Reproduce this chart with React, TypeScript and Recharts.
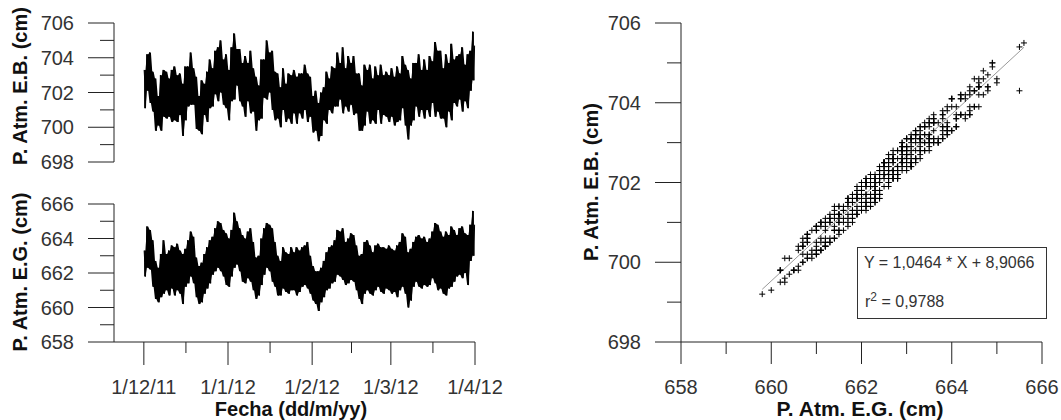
import { ComposedChart, Line, Area, ScatterChart, Scatter, XAxis, YAxis, ReferenceLine } from 'recharts';

// four readings a day, E.G. station (cm), 1/12/11 .. 31/3/12: high, mean, low, second mean
const egHi = [
  663.3, 664.7, 664.5, 663.9, 662.7, 662.3, 663.1, 663.9, 663.1, 663.3,
  663.6, 663.5, 663.7, 663.3, 663.1, 663.4, 663.9, 664.4, 664.1, 662.9,
  662.4, 662.6, 663.1, 663.5, 663.9, 664.1, 664.6, 665.0, 664.9, 664.5,
  664.3, 664.0, 664.5, 665.5, 665.0, 664.6, 664.2, 664.0, 664.4, 664.6,
  663.8, 662.9, 663.0, 664.0, 664.6, 664.9, 664.8, 664.6, 663.8, 663.0,
  662.7, 663.5, 663.2, 663.1, 663.5, 663.2, 663.5, 663.3, 663.5, 663.6,
  663.8, 663.0, 662.4, 662.1, 662.1, 662.3, 662.7, 663.2, 663.5, 663.6,
  663.9, 664.5, 664.4, 664.6, 663.8, 664.0, 664.3, 664.2, 663.6, 663.0,
  663.1, 663.8, 663.9, 663.6, 663.2, 663.6, 663.7, 663.5, 663.5, 663.4,
  663.6, 663.4, 663.3, 663.6, 663.8, 664.3, 664.1, 663.2, 663.4, 663.8,
  664.1, 664.2, 664.0, 664.1, 663.8, 664.0, 664.4, 664.9, 664.8, 664.4,
  664.1, 664.4, 664.2, 664.7, 664.5, 664.2, 664.6, 664.7, 664.3, 664.2,
  664.8, 665.6,
];
const egMean = [
  662.6, 663.6, 663.4, 662.6, 661.7, 661.4, 661.9, 662.4, 662.1, 662.1,
  662.4, 662.2, 662.5, 662.1, 661.8, 662.4, 662.7, 663.2, 662.8, 661.8,
  661.4, 661.5, 662.0, 662.4, 662.7, 663.1, 663.4, 663.7, 663.6, 663.2,
  662.9, 662.7, 663.2, 663.9, 663.8, 663.4, 662.9, 662.8, 663.1, 663.1,
  662.5, 661.8, 661.9, 662.7, 663.3, 663.7, 663.5, 663.1, 662.6, 661.9,
  661.8, 662.4, 662.1, 662.0, 662.3, 662.2, 662.2, 662.2, 662.4, 662.5,
  662.5, 662.0, 661.5, 661.2, 661.0, 661.4, 661.7, 662.2, 662.4, 662.6,
  662.8, 663.3, 663.2, 663.2, 662.6, 662.8, 663.0, 662.9, 662.4, 661.8,
  661.7, 662.4, 662.5, 662.3, 662.0, 662.4, 662.5, 662.3, 662.2, 662.3,
  662.4, 662.2, 662.2, 662.2, 662.5, 662.8, 662.5, 661.7, 662.0, 662.6,
  662.9, 662.8, 662.6, 662.8, 662.6, 662.7, 663.1, 663.2, 663.0, 662.8,
  662.5, 662.6, 662.7, 663.0, 663.1, 663.1, 663.3, 663.3, 663.2, 662.8,
  663.8, 664.4,
];
const egLo = [
  661.8, 662.3, 662.2, 661.2, 660.5, 660.3, 660.6, 660.8, 661.0, 660.7,
  661.1, 660.7, 661.0, 660.8, 660.2, 661.2, 661.4, 661.8, 661.4, 660.6,
  660.2, 660.3, 660.8, 661.1, 661.4, 661.9, 662.1, 662.3, 662.1, 661.8,
  661.3, 661.2, 661.8, 662.3, 662.5, 662.1, 661.5, 661.4, 661.7, 661.5,
  661.0, 660.5, 660.7, 661.3, 661.9, 662.3, 662.1, 661.5, 661.2, 660.7,
  660.7, 661.1, 660.9, 660.8, 661.0, 661.0, 660.7, 660.9, 661.2, 661.3,
  661.1, 660.8, 660.4, 660.2, 659.8, 660.3, 660.6, 661.0, 661.1, 661.4,
  661.5, 661.9, 661.8, 661.6, 661.3, 661.4, 661.6, 661.5, 661.0, 660.5,
  660.2, 660.8, 661.0, 660.8, 660.7, 661.0, 661.2, 660.9, 660.8, 661.1,
  661.0, 660.8, 660.9, 660.6, 661.0, 661.2, 660.8, 660.0, 660.4, 661.2,
  661.5, 661.2, 661.1, 661.3, 661.2, 661.3, 661.7, 661.4, 661.0, 661.1,
  660.8, 660.7, 661.1, 661.2, 661.5, 661.8, 661.9, 661.7, 662.0, 661.3,
  662.7, 663.0,
];
const egMean2 = [
  662.9, 663.3, 662.9, 662.0, 661.5, 661.6, 662.1, 662.0, 662.3, 662.0,
  662.1, 662.4, 662.2, 661.9, 662.1, 662.6, 663.0, 662.9, 662.3, 661.5,
  661.6, 661.8, 662.2, 662.7, 663.0, 663.4, 663.7, 663.9, 663.3, 662.9,
  662.6, 663.0, 663.6, 664.1, 663.5, 663.1, 662.6, 663.0, 663.4, 662.8,
  662.1, 661.6, 662.2, 663.0, 663.6, 663.9, 663.3, 662.8, 662.2, 661.7,
  662.1, 662.6, 661.9, 662.2, 662.5, 662.0, 661.9, 662.4, 662.6, 662.7,
  662.2, 661.7, 661.3, 661.4, 661.2, 661.7, 661.9, 662.4, 662.7, 662.9,
  663.1, 663.5, 662.9, 662.8, 662.9, 663.1, 662.7, 662.6, 662.0, 661.6,
  662.0, 662.6, 662.3, 662.0, 662.3, 662.6, 662.3, 662.0, 662.4, 662.5,
  662.2, 661.9, 662.4, 662.5, 662.8, 663.0, 662.2, 661.5, 662.3, 662.9,
  662.7, 662.5, 662.8, 662.6, 662.4, 663.0, 663.4, 663.0, 662.7, 662.5,
  662.3, 662.9, 662.9, 663.3, 663.3, 662.9, 663.5, 663.0, 662.9, 663.2,
  664.2, 664.8,
];

// same four readings, E.B. station (cm)
const ebHi = [
  703.3, 704.2, 704.3, 703.2, 702.8, 701.8, 703.0, 703.3, 703.2, 702.8,
  703.3, 703.5, 703.0, 703.1, 702.5, 703.5, 703.5, 704.3, 703.4, 702.9,
  701.8, 702.7, 702.5, 703.2, 703.9, 703.4, 704.4, 704.6, 705.0, 703.9,
  704.2, 703.3, 704.6, 705.4, 704.5, 704.5, 703.7, 704.1, 703.7, 704.4,
  703.4, 702.9, 702.4, 703.9, 703.9, 705.0, 704.3, 704.4, 703.2, 703.1,
  702.3, 703.4, 702.5, 703.1, 703.0, 703.3, 702.9, 703.1, 703.1, 703.6,
  703.1, 702.9, 701.8, 702.1, 701.4, 702.0, 702.3, 703.2, 702.8, 703.5,
  703.4, 704.3, 703.7, 704.6, 703.4, 704.1, 703.7, 704.1, 703.1, 703.1,
  702.4, 703.6, 703.3, 703.6, 702.8, 703.5, 703.0, 703.6, 703.0, 703.2,
  703.0, 703.4, 702.9, 703.5, 703.1, 704.1, 703.6, 703.3, 702.8, 703.7,
  703.7, 704.2, 703.3, 703.9, 703.3, 704.1, 703.8, 704.9, 704.4, 704.4,
  703.4, 704.2, 703.7, 704.8, 703.9, 704.1, 704.2, 704.6, 703.6, 704.2,
  704.4, 705.5,
];
const ebMean = [
  702.6, 703.0, 703.4, 701.9, 701.6, 700.8, 701.9, 701.7, 702.0, 701.3,
  702.3, 701.6, 702.5, 701.4, 701.7, 701.6, 702.6, 702.6, 702.8, 701.1,
  701.4, 700.8, 701.9, 701.6, 702.7, 702.6, 703.4, 703.0, 703.7, 702.6,
  702.9, 702.1, 703.1, 703.2, 703.8, 702.8, 703.0, 702.2, 703.1, 702.4,
  702.5, 701.2, 701.8, 702.1, 703.4, 703.1, 703.5, 702.4, 702.6, 701.2,
  701.6, 701.7, 702.1, 701.3, 702.2, 701.4, 702.1, 701.6, 702.3, 701.9,
  702.5, 701.3, 701.4, 700.5, 700.9, 700.6, 701.6, 701.6, 702.4, 702.0,
  702.8, 702.6, 703.2, 702.6, 702.5, 702.2, 703.1, 702.3, 702.3, 701.0,
  701.6, 701.7, 702.5, 701.7, 702.0, 701.7, 702.5, 701.5, 702.1, 701.6,
  702.2, 701.5, 702.2, 701.5, 702.5, 702.1, 702.5, 701.0, 701.9, 702.1,
  703.0, 702.2, 702.6, 702.1, 702.6, 702.1, 703.1, 702.6, 703.1, 702.1,
  702.5, 702.0, 702.6, 702.3, 703.1, 702.5, 703.4, 702.7, 703.2, 702.2,
  703.7, 703.9,
];
const ebLo = [
  701.1, 702.1, 701.4, 700.9, 699.8, 700.1, 699.8, 700.6, 700.5, 700.6,
  700.3, 700.4, 700.3, 700.7, 699.5, 700.4, 701.2, 701.3, 701.3, 699.9,
  699.8, 699.6, 700.7, 700.3, 701.1, 701.2, 701.9, 701.5, 702.0, 701.3,
  701.1, 700.4, 701.5, 701.6, 702.4, 701.5, 701.2, 700.6, 701.5, 700.8,
  700.9, 699.8, 700.4, 700.5, 701.7, 701.6, 702.0, 701.0, 700.4, 700.5,
  700.0, 701.0, 700.3, 700.5, 700.2, 700.8, 700.2, 700.8, 700.5, 701.0,
  700.3, 700.6, 699.7, 699.8, 699.2, 699.5, 700.4, 700.2, 701.0, 700.8,
  701.2, 701.2, 701.6, 700.8, 701.2, 700.9, 701.3, 700.7, 700.8, 699.8,
  699.8, 700.1, 700.9, 700.2, 700.4, 700.2, 701.0, 700.2, 700.7, 700.6,
  700.3, 700.6, 700.1, 700.3, 700.4, 701.1, 700.1, 699.3, 700.1, 700.4,
  701.2, 700.6, 701.0, 700.5, 701.0, 700.6, 701.4, 700.6, 700.9, 700.5,
  700.5, 700.0, 700.9, 700.4, 701.4, 701.2, 701.6, 700.9, 701.5, 701.1,
  702.1, 702.7,
];
const ebMean2 = [
  702.5, 703.1, 702.6, 701.8, 701.0, 701.3, 701.5, 701.7, 701.9, 701.8,
  701.6, 702.1, 701.6, 701.7, 701.7, 702.2, 702.8, 702.4, 702.1, 701.1,
  701.1, 701.5, 701.6, 702.6, 702.7, 703.0, 703.5, 703.4, 703.2, 702.6,
  702.4, 702.6, 703.5, 703.6, 703.2, 702.9, 702.1, 702.9, 703.0, 702.6,
  701.7, 701.4, 701.7, 702.8, 703.1, 703.8, 703.0, 702.4, 701.9, 701.1,
  701.9, 702.3, 701.6, 701.7, 702.4, 701.4, 701.6, 702.0, 702.2, 702.5,
  702.0, 701.2, 701.0, 700.8, 700.8, 701.5, 701.4, 702.1, 702.2, 702.8,
  702.8, 703.1, 702.7, 702.3, 702.8, 702.7, 702.5, 702.3, 701.8, 701.0,
  701.7, 702.2, 702.1, 701.6, 701.7, 702.4, 701.8, 701.8, 702.0, 702.1,
  701.9, 701.3, 702.2, 702.2, 702.4, 702.8, 701.6, 701.2, 701.9, 702.8,
  702.3, 702.3, 702.3, 702.5, 702.0, 702.6, 703.2, 702.5, 702.6, 702.2,
  702.0, 702.5, 702.8, 702.8, 703.1, 702.6, 703.1, 702.9, 702.5, 703.0,
  703.7, 704.7,
];

// single stray reading seen in the scatter
const outlierEG = [665.5];
const outlierEB = [704.3];

// axes
const monthTicks = [0, 31, 62, 91, 122];
const monthLabels = ['1/12/11', '1/1/12', '1/2/12', '1/3/12', '1/4/12'];
const midMonthTicks = [15.5, 46.5, 76.5, 106.5];
const ebTicks = [698, 699, 700, 701, 702, 703, 704, 705, 706];
const egTicks = [658, 659, 660, 661, 662, 663, 664, 665, 666];

// fit shown in the box
const slope = 1.0464;
const intercept = 8.9066;
const r2 = 0.9788;
const fitRange = [659.8, 665.6];

const W = 1061;
const H = 420;
const FONT = '"Liberation Sans", Arial, sans-serif';
const INK = '#222';
const TXT = '#333';

// readings a quarter day apart, plus the daily low-high envelope
const toSeries = (hi: number[], mean: number[], lo: number[], mean2: number[]) =>
  hi.flatMap((h, i) => [
    { t: i + 0.1, v: h, band: [lo[i], h] },
    { t: i + 0.35, v: mean[i] },
    { t: i + 0.6, v: lo[i], band: [lo[i], h] },
    { t: i + 0.85, v: mean2[i] },
  ]);

const ebSeries = toSeries(ebHi, ebMean, ebLo, ebMean2);
const egSeries = toSeries(egHi, egMean, egLo, egMean2);

const pairs = (xs: number[], ys: number[]) => xs.map((x, i) => ({ x, y: ys[i] }));
const scatterPoints = [
  ...pairs(egHi, ebHi),
  ...pairs(egMean, ebMean),
  ...pairs(egLo, ebLo),
  ...pairs(egMean2, ebMean2),
  ...pairs(outlierEG, outlierEB),
];

const fitSegment = fitRange.map((x) => ({ x, y: slope * x + intercept }));
const comma = (n: number) => String(n).replace('.', ',');

const YTick = (props: any) => {
  const { x, y, payload } = props;
  const major = payload.value % 2 === 0;
  return (
    <g>
      <line x1={x - (major ? 26 : 14)} x2={x} y1={y} y2={y} stroke={INK} />
      {major && (
        <text x={x - 40} y={y} dy="0.35em" textAnchor="end" fontFamily={FONT} fontSize={20} fill={TXT}>
          {payload.value}
        </text>
      )}
    </g>
  );
};

const DateTick = (props: any) => {
  const { x, y, payload } = props;
  const idx = monthTicks.indexOf(payload.value);
  const major = idx >= 0;
  return (
    <g>
      <line x1={x} x2={x} y1={y} y2={y + (major ? 23 : 11)} stroke={INK} />
      {major && (
        <text x={x} y={y + 45} dy="0.35em" textAnchor="middle" fontFamily={FONT} fontSize={20} fill={TXT}>
          {monthLabels[idx]}
        </text>
      )}
    </g>
  );
};

const ValTick = (props: any) => {
  const { x, y, payload } = props;
  const major = payload.value % 2 === 0;
  return (
    <g>
      <line x1={x} x2={x} y1={y} y2={y + (major ? 22 : 12)} stroke={INK} />
      {major && (
        <text x={x} y={y + 45} dy="0.35em" textAnchor="middle" fontFamily={FONT} fontSize={20} fill={TXT}>
          {payload.value}
        </text>
      )}
    </g>
  );
};

const Cross = (props: any) => {
  const { cx, cy } = props;
  return <path d={`M${cx - 3},${cy}h6M${cx},${cy - 3}v6`} stroke="#000" strokeWidth={1} fill="none" />;
};

const layer: React.CSSProperties = { position: 'absolute', left: 0, top: 0 };

// axes are 1px wide/high, so the margins leave the plot edges where the picture has them
const leftMargin = (top: number, bottom: number, xAxisH: number) => ({
  top,
  left: 113,
  right: W - 475,
  bottom: H - bottom - xAxisH,
});

const yAxisProps = {
  type: 'number' as const,
  interval: 0,
  width: 1,
  tickSize: 0,
  tickMargin: 0,
  tickLine: false,
  axisLine: { stroke: INK },
  tick: <YTick />,
};

const seriesMarks = [
  <Area key="band" dataKey="band" type="linear" fill="#000" fillOpacity={1} stroke="none" connectNulls isAnimationActive={false} />,
  <Line key="v" dataKey="v" stroke="#000" strokeWidth={1} dot={false} isAnimationActive={false} />,
];

export default function App() {
  return (
    <div style={{ position: 'absolute', left: 0, top: 0, width: W, height: H, background: '#fff', overflow: 'hidden' }}>
      <div style={layer}>
        <ComposedChart width={W} height={H} data={ebSeries} margin={leftMargin(23, 162, 0)}>
          <XAxis type="number" dataKey="t" domain={[-11, 122]} hide />
          <YAxis {...yAxisProps} domain={[698, 706]} ticks={ebTicks} />
          {seriesMarks}
        </ComposedChart>
      </div>

      <div style={layer}>
        <ComposedChart width={W} height={H} data={egSeries} margin={leftMargin(204, 342, 1)}>
          <XAxis
            type="number"
            dataKey="t"
            domain={[-11, 122]}
            ticks={[...monthTicks, ...midMonthTicks].sort((a, b) => a - b)}
            interval={0}
            height={1}
            tickSize={0}
            tickMargin={0}
            tickLine={false}
            axisLine={{ stroke: INK }}
            tick={<DateTick />}
          />
          <YAxis {...yAxisProps} domain={[658, 666]} ticks={egTicks} />
          {seriesMarks}
        </ComposedChart>
      </div>

      <div style={layer}>
        <ScatterChart width={W} height={H} margin={{ top: 23, left: 680, right: W - 1042, bottom: H - 342 - 1 }}>
          <XAxis
            type="number"
            dataKey="x"
            domain={[658, 666]}
            ticks={egTicks}
            interval={0}
            height={1}
            tickSize={0}
            tickMargin={0}
            tickLine={false}
            axisLine={{ stroke: INK }}
            tick={<ValTick />}
          />
          <YAxis {...yAxisProps} dataKey="y" domain={[698, 706]} ticks={ebTicks} />
          <Scatter data={scatterPoints} shape={<Cross />} isAnimationActive={false} />
          <ReferenceLine segment={fitSegment} stroke="#999" strokeWidth={1} ifOverflow="visible" />
        </ScatterChart>
      </div>

      <svg width={W} height={H} style={{ ...layer, pointerEvents: 'none' }}>
        <g fontFamily={FONT} fontWeight="bold" fontSize={20} fill="#111">
          <text transform="translate(20,86) rotate(-90)" textAnchor="middle" dy="0.35em">P. Atm. E.B. (cm)</text>
          <text transform="translate(20,272) rotate(-90)" textAnchor="middle" dy="0.35em">P. Atm. E.G. (cm)</text>
          <text transform="translate(591,182) rotate(-90)" textAnchor="middle" dy="0.35em">P. Atm. E.B. (cm)</text>
          <text x={291} y={416} textAnchor="middle">Fecha (dd/m/yy)</text>
          <text x={860} y={416} textAnchor="middle" fontSize={21}>P. Atm. E.G. (cm)</text>
        </g>
        <rect x={857.5} y={247.5} width={189} height={71} fill="#fff" stroke="#333" strokeWidth={1} />
        <g fontFamily={FONT} fontSize={16} fill={TXT}>
          <text x={864} y={268}>{`Y = ${comma(slope)} * X + ${comma(intercept)}`}</text>
          <text x={865} y={307}>
            r<tspan dy={-6} fontSize={12}>2</tspan>
            <tspan dy={6}>{` = ${comma(r2)}`}</tspan>
          </text>
        </g>
      </svg>
    </div>
  );
}
